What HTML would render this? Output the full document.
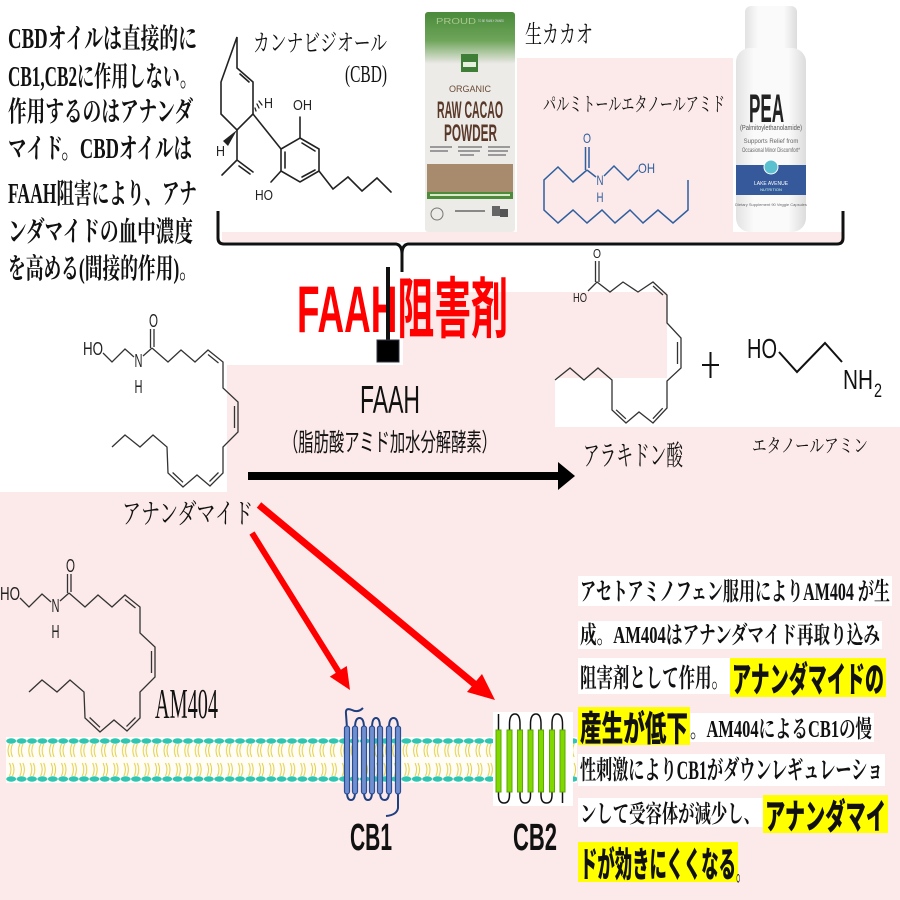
<!DOCTYPE html>
<html><head><meta charset="utf-8"><style>
html,body{margin:0;padding:0;background:#fff;}
svg{display:block;}
.mi{font-family:"Liberation Serif","Noto Serif CJK SC",serif;}
.go{font-family:"Liberation Sans","Noto Sans CJK JP",sans-serif;}
</style></head><body>
<svg width="900" height="900" viewBox="0 0 900 900" xmlns="http://www.w3.org/2000/svg">
<defs>
<linearGradient id="gtop" x1="0" y1="0" x2="0" y2="1">
<stop offset="0" stop-color="#4a8a3a"/><stop offset="0.55" stop-color="#6ea55a"/><stop offset="1" stop-color="#ecebe8"/>
</linearGradient>
<linearGradient id="bot" x1="0" y1="0" x2="1" y2="0">
<stop offset="0" stop-color="#e2e2e2"/><stop offset="0.25" stop-color="#fafafa"/><stop offset="0.75" stop-color="#fafafa"/><stop offset="1" stop-color="#dcdcdc"/>
</linearGradient>
<pattern id="mem" x="6" y="736" width="10.4" height="48" patternUnits="userSpaceOnUse">
<path d="M3.5,8 q-3,6.5 0,13 M6.5,8 q-3,6.5 0,13" stroke="#e2cf45" fill="none" stroke-width="1"/>
<path d="M3.5,27 q3,6.5 0,13 M6.5,27 q3,6.5 0,13" stroke="#e2cf45" fill="none" stroke-width="1"/>
<ellipse cx="5.2" cy="5" rx="5" ry="2.7" fill="#2ec6b2"/>
<ellipse cx="5.2" cy="43" rx="5" ry="2.7" fill="#2ec6b2"/>
</pattern>
</defs>

<rect width="900" height="900" fill="#fff"/>
<!-- pink regions -->
<rect x="517" y="58" width="326" height="176" fill="#fce9e9"/>
<rect x="222" y="232" width="621" height="10" fill="#fce9e9"/>
<rect x="403" y="292" width="264" height="86" fill="#fce9e9"/>
<rect x="227" y="365" width="328" height="128" fill="#fce9e9"/>
<rect x="555" y="427" width="345" height="66" fill="#fce9e9"/>
<rect x="0" y="492" width="900" height="408" fill="#fce9e9"/>

<!-- top-left text -->
<g class="mi" font-size="28" font-weight="700" fill="#111">
<text x="8" y="48" textLength="189" lengthAdjust="spacingAndGlyphs">CBDオイルは直接的に</text>
<text x="8" y="86" textLength="189" lengthAdjust="spacingAndGlyphs">CB1,CB2に作用しない。</text>
<text x="8" y="121" textLength="185" lengthAdjust="spacingAndGlyphs">作用するのはアナンダ</text>
<text x="8" y="158" textLength="184" lengthAdjust="spacingAndGlyphs">マイド。CBDオイルは</text>
<text x="8" y="203" textLength="189" lengthAdjust="spacingAndGlyphs">FAAH阻害により、アナ</text>
<text x="8" y="241" textLength="185" lengthAdjust="spacingAndGlyphs">ンダマイドの血中濃度</text>
<text x="8" y="278" textLength="189" lengthAdjust="spacingAndGlyphs">を高める(間接的作用)。</text>
</g>

<!-- CBD label -->
<g class="mi" fill="#111">
<text x="253" y="51" font-size="24" textLength="134" lengthAdjust="spacingAndGlyphs">カンナビジオール</text>
<text x="345" y="82" font-size="24" textLength="42" lengthAdjust="spacingAndGlyphs">(CBD)</text>
</g>
<!-- CBD structure -->
<g stroke="#222" stroke-width="1.6" fill="none" stroke-linecap="round">
<path d="M237,37 L237,68 L253,82 L253,114 L237,130 L221,114 L221,82 Z"/>
<path d="M240,74 L249,82"/>
<path d="M253,114 L281,149"/>
<path d="M237,130 L237,160 L222,175 M237,160 L253,172 M239,166 L250,174"/>
<path d="M300,138 L319,149 L319,171 L300,182 L281,171 L281,149 Z"/>
<path d="M285,152 L285,168 M302,143 L315,151 M315,170 L302,177"/>
<path d="M300,138 L300,117"/>
<path d="M281,171 L271,182"/>
<path d="M319,171 L333,189 L348,177 L362,191 L377,178 L391,192"/>
<path d="M256,111 L255,108 M259,108 L257,104 M262,105 L259,101" stroke-width="1.3"/>
</g>
<polygon points="237,130 223,141 228,146" fill="#222"/>
<g class="go" font-size="15" fill="#222">
<text x="264" y="108" textLength="9" lengthAdjust="spacingAndGlyphs">H</text>
<text x="216" y="156" textLength="9" lengthAdjust="spacingAndGlyphs">H</text>
<text x="293" y="110" textLength="19" lengthAdjust="spacingAndGlyphs">OH</text>
<text x="255" y="200" textLength="18" lengthAdjust="spacingAndGlyphs">HO</text>
</g>

<!-- Cacao bag -->
<g>
<rect x="425" y="12" width="90" height="220" rx="3" fill="#ecebe8"/>
<rect x="425" y="12" width="90" height="52" rx="3" fill="url(#gtop)"/>
<text x="436" y="24" class="go" font-size="8" fill="#a8c890" textLength="40" lengthAdjust="spacingAndGlyphs">PROUD</text>
<text x="478" y="22" class="go" font-size="4" fill="#dde" textLength="26" lengthAdjust="spacingAndGlyphs">TO BE FAMILY OWNED</text>
<rect x="461" y="54" width="17" height="18" fill="#3f7e36"/>
<rect x="463" y="62" width="13" height="5" fill="#e8f0e0"/>
<text x="470" y="92" class="go" font-size="9" fill="#6a4a35" text-anchor="middle">ORGANIC</text>
<text x="437" y="118" class="go" font-size="24" font-weight="700" fill="#5a3828" textLength="66" lengthAdjust="spacingAndGlyphs">RAW CACAO</text>
<text x="444" y="141" class="go" font-size="24" font-weight="700" fill="#5a3828" textLength="53" lengthAdjust="spacingAndGlyphs">POWDER</text>
<g fill="#9a9a9a">
<rect x="430" y="146" width="22" height="2"/><rect x="430" y="150" width="18" height="2"/>
<rect x="458" y="146" width="24" height="2"/><rect x="458" y="150" width="22" height="2"/><rect x="460" y="154" width="14" height="2"/>
<rect x="488" y="146" width="22" height="2"/><rect x="488" y="150" width="20" height="2"/><rect x="488" y="154" width="18" height="2"/>
</g>
<rect x="427" y="164" width="86" height="29" fill="#a88a6c"/>
<rect x="427" y="192" width="86" height="7" fill="#4d8a3a"/>
<rect x="430" y="194" width="80" height="2" fill="#d8e8c8"/>
<circle cx="437" cy="214" r="6" fill="none" stroke="#777" stroke-width="1"/>
<rect x="455" y="210" width="30" height="2" fill="#888"/>
<rect x="492" y="206" width="8" height="10" fill="#666"/>
<rect x="500" y="209" width="8" height="8" fill="#555"/>
</g>
<text x="525" y="43" class="mi" font-size="25" fill="#111" textLength="68" lengthAdjust="spacingAndGlyphs">生カカオ</text>
<text x="543" y="111" class="mi" font-size="20" fill="#111" textLength="182" lengthAdjust="spacingAndGlyphs">パルミトールエタノールアミド</text>

<!-- PEA structure -->
<g stroke="#2f5f9f" stroke-width="1.5" fill="none">
<path d="M585.5,147 L585.5,170 M589,147 L589,168"/>
<path d="M587,170 L596,177"/>
<path d="M604,176 L614,166 L628,180 L638,170"/>
<path d="M587,170 L573,182 L558,167 L544,180 L544,210 L558,223 L573,210 L587,223 L602,210 L615,223 L630,210 L643,223 L658,210 L673,223 L688,210 L688,180"/>
</g>
<g class="go" font-size="14" fill="#2f5f9f">
<text x="583" y="143" textLength="8" lengthAdjust="spacingAndGlyphs">O</text>
<text x="596.5" y="185" textLength="7" lengthAdjust="spacingAndGlyphs">N</text>
<text x="596.5" y="202" textLength="7" lengthAdjust="spacingAndGlyphs">H</text>
<text x="638" y="173" textLength="17" lengthAdjust="spacingAndGlyphs">OH</text>
</g>

<!-- PEA bottle -->
<rect x="733" y="0" width="110" height="232" fill="#fff"/>
<rect x="745" y="6" width="52" height="52" rx="6" fill="url(#bot)"/>
<rect x="736" y="48" width="70" height="184" rx="14" fill="url(#bot)"/>
<text x="749" y="122" class="go" font-size="40" font-weight="700" fill="#222" textLength="35" lengthAdjust="spacingAndGlyphs">PEA</text>
<text x="740" y="130" class="go" font-size="7" fill="#555" textLength="62" lengthAdjust="spacingAndGlyphs">(Palmitoylethanolamide)</text>
<text x="771" y="143" class="go" font-size="6" fill="#666" text-anchor="middle">Supports Relief from</text>
<text x="771" y="152" class="go" font-size="6" fill="#666" text-anchor="middle" textLength="58" lengthAdjust="spacingAndGlyphs">Occasional Minor Discomfort*</text>
<rect x="736" y="165" width="70" height="30" fill="#35599a"/>
<circle cx="771" cy="167" r="7" fill="#5bc0d0" stroke="#fff" stroke-width="1"/>
<text x="771" y="185" class="go" font-size="5" fill="#fff" text-anchor="middle">LAKE AVENUE</text>
<text x="771" y="191" class="go" font-size="4" fill="#cfe" text-anchor="middle">NUTRITION</text>
<text x="771" y="206" class="go" font-size="4" fill="#666" text-anchor="middle">Dietary Supplement   90 Veggie Capsules</text>

<!-- bracket -->
<path d="M218,211 L218,238 Q218,244 224,244 L396,244 Q402,245 402,254 L402,272 M402,254 Q402,245 408,244 L837,244 Q843,244 843,238 L843,211" stroke="#111" stroke-width="3" fill="none"/>

<!-- FAAH inhibitor -->
<text x="297" y="332" class="go" font-size="66" font-weight="700" fill="#ff0000" textLength="211" lengthAdjust="spacingAndGlyphs">FAAH阻害剤</text>
<line x1="388" y1="267" x2="388" y2="341" stroke="#111" stroke-width="4"/>
<rect x="377" y="340" width="22" height="22" fill="#000" stroke="#334" stroke-width="1"/>

<text x="360" y="413" class="go" font-size="39" fill="#111" textLength="60" lengthAdjust="spacingAndGlyphs">FAAH</text>
<text x="283" y="451" class="go" font-size="25" fill="#111" textLength="214" lengthAdjust="spacingAndGlyphs">（脂肪酸アミド加水分解酵素）</text>

<!-- black arrow -->
<line x1="248" y1="476" x2="562" y2="476" stroke="#000" stroke-width="8"/>
<polygon points="558,462 575,476 558,490" fill="#000"/>

<!-- anandamide -->
<g id="ana">
<g stroke="#333" stroke-width="1.3" fill="none">
<path d="M103,353 L112,362 L125,349 L134,357"/>
<path d="M143,356 L152,348"/>
<path d="M150.5,348 L150.5,329 M154,347 L154,329"/>
<path d="M152,348 L168,362 L181,350 L195,362 L208,350 L223,362 L223,388 L238,402 L238,432 L223,447 L223,473 L210,486 L197,475 L183,487 L168,473 L167,447 L153,435 L140,447 L125,435 L112,447"/>
<path d="M208,354.5 L218.5,363 M234.5,406 L234.5,428 M218.5,472.5 L209.5,481.5 M183,482.3 L172.6,472.5"/>
</g>
<g class="go" font-size="18" fill="#222">
<text x="83" y="355" textLength="20" lengthAdjust="spacingAndGlyphs">HO</text>
<text x="134.5" y="367" textLength="8" lengthAdjust="spacingAndGlyphs">N</text>
<text x="134.5" y="393" textLength="8" lengthAdjust="spacingAndGlyphs">H</text>
<text x="149" y="327" textLength="9" lengthAdjust="spacingAndGlyphs">O</text>
</g>
</g>
<text x="122" y="523" class="mi" font-size="28" fill="#111" textLength="131" lengthAdjust="spacingAndGlyphs">アナンダマイド</text>

<!-- arachidonic acid -->
<g stroke="#333" stroke-width="1.3" fill="none">
<path d="M595.5,282 L595.5,261 M599,282 L599,261"/>
<path d="M588,291 L597,282 L610,292 L623,282 L638,292 L653,282 L667,295 L667,323 L681,338 L681,368 L667,381 L667,408 L653,423 L639,412 L626,423 L612,410 L612,380 L598,368 L584,380 L570,368 L555,380"/>
<path d="M653,286 L663,295 M677.5,342 L677.5,364 M662.7,408.2 L652.9,418.7 M625.9,418.8 L616.1,409.8"/>
</g>
<g class="go" font-size="13" fill="#222">
<text x="593" y="258" textLength="8" lengthAdjust="spacingAndGlyphs">O</text>
<text x="573" y="302" textLength="14" lengthAdjust="spacingAndGlyphs">HO</text>
</g>
<path d="M702,365 L719,365 M710.5,352 L710.5,378" stroke="#111" stroke-width="2"/>
<!-- ethanolamine -->
<path d="M779,352 L797,372 L825,343 L842,362" stroke="#111" stroke-width="2" fill="none"/>
<g class="go" fill="#111">
<text x="747" y="358" font-size="28" textLength="30" lengthAdjust="spacingAndGlyphs">HO</text>
<text x="843" y="389" font-size="28" textLength="30" lengthAdjust="spacingAndGlyphs">NH</text>
<text x="874" y="397" font-size="19" textLength="8" lengthAdjust="spacingAndGlyphs">2</text>
</g>
<text x="583" y="465" class="mi" font-size="28" fill="#111" textLength="100" lengthAdjust="spacingAndGlyphs">アラキドン酸</text>
<text x="752" y="452" class="mi" font-size="19" fill="#111" textLength="116" lengthAdjust="spacingAndGlyphs">エタノールアミン</text>

<!-- red arrows -->
<line x1="252" y1="533" x2="340" y2="674" stroke="#ff0000" stroke-width="6"/>
<polygon points="350,690 329.8,676.6 346.8,666" fill="#ff0000"/>
<line x1="259" y1="505" x2="478" y2="687" stroke="#ff0000" stroke-width="7"/>
<polygon points="495,700 467,692 482,674" fill="#ff0000"/>

<!-- AM404 -->
<use href="#ana" transform="translate(-83,245)"/>
<text x="155" y="718" class="mi" font-size="42" fill="#111" textLength="63" lengthAdjust="spacingAndGlyphs">AM404</text>

<!-- membrane -->
<rect x="6" y="737" width="571" height="46" fill="#fffdf6"/>
<rect x="6" y="736" width="571" height="48" fill="url(#mem)"/>

<!-- CB1 -->
<g>
<path d="M347,728 L346,714 Q345,707 352,710 Q358,713 363,708" stroke="#1f3f80" stroke-width="2" fill="none"/>
<path d="M355,728 Q355,718 359.5,718 Q364,718 364,728 M372,728 Q372,718 376,718 Q380,718 380,728 M389,728 Q389,718 393.5,718 Q398,718 398,728" stroke="#1f3f80" stroke-width="2" fill="none"/>
<path d="M347,792 Q347,800 351,800 Q355,800 355,792 M364,792 Q364,800 368,800 Q372,800 372,792 M380,792 Q380,800 384.5,800 Q389,800 389,792" stroke="#1f3f80" stroke-width="2" fill="none"/>
<path d="M398,792 L398,808 Q397,815 386,816" stroke="#1f3f80" stroke-width="2" fill="none"/>
<g fill="#6f8fd0" stroke="#2a4d94" stroke-width="1.2">
<rect x="344.5" y="726" width="5" height="68" rx="2.5"/>
<rect x="352.5" y="726" width="5" height="68" rx="2.5"/>
<rect x="361.5" y="726" width="5" height="68" rx="2.5"/>
<rect x="369.5" y="726" width="5" height="68" rx="2.5"/>
<rect x="377.5" y="726" width="5" height="68" rx="2.5"/>
<rect x="386.5" y="726" width="5" height="68" rx="2.5"/>
<rect x="395.5" y="726" width="5" height="68" rx="2.5"/>
</g>
</g>

<!-- CB2 -->
<rect x="493" y="712" width="80" height="94" fill="#fff"/>
<g stroke="#111" stroke-width="1.5" fill="none">
<path d="M498.5,731 L498.5,714"/>
<path d="M509.5,731 L509.5,724 Q509.5,714 515,714 Q520,714 520,724 L520,731"/>
<path d="M530.5,731 L530.5,724 Q530.5,714 536,714 Q541,714 541,724 L541,731"/>
<path d="M552,731 L552,724 Q552,714 557,714 Q562.5,714 562.5,724 L562.5,731"/>
<path d="M498.5,790 L498.5,795 Q498.5,803 504,803 Q509.5,803 509.5,795 L509.5,790"/>
<path d="M520,790 L520,795 Q520,803 525,803 Q530.5,803 530.5,795 L530.5,790"/>
<path d="M541,790 L541,795 Q541,803 546.5,803 Q552,803 552,795 L552,790"/>
<path d="M562.5,790 L562.5,803"/>
</g>
<g fill="#80d800" stroke="#5aa800" stroke-width="1">
<rect x="496" y="730" width="5" height="62"/>
<rect x="507" y="730" width="5" height="62"/>
<rect x="517.5" y="730" width="5" height="62"/>
<rect x="528" y="730" width="5" height="62"/>
<rect x="538.5" y="730" width="5" height="62"/>
<rect x="549.5" y="730" width="5" height="62"/>
<rect x="560" y="730" width="5" height="62"/>
</g>

<g class="go" font-size="38" font-weight="700" fill="#111">
<text x="350" y="850" textLength="42" lengthAdjust="spacingAndGlyphs">CB1</text>
<text x="513" y="850" textLength="44" lengthAdjust="spacingAndGlyphs">CB2</text>
</g>

<!-- right text -->
<g fill="#fff">
<rect x="578" y="576" width="314" height="30"/>
<rect x="578" y="621" width="304" height="28"/>
<rect x="578" y="658" width="152" height="36"/>
<rect x="690" y="713" width="184" height="29"/>
<rect x="578" y="754" width="307" height="32"/>
<rect x="578" y="798" width="185" height="29"/>
</g>
<g fill="#ffff00">
<rect x="730" y="658" width="156" height="39"/>
<rect x="578" y="707" width="112" height="38"/>
<rect x="763" y="795" width="125" height="38"/>
<rect x="578" y="842" width="160" height="40"/>
</g>
<g class="mi" font-weight="700" fill="#111">
<text x="580" y="600" font-size="25" textLength="310" lengthAdjust="spacingAndGlyphs">アセトアミノフェン服用によりAM404 が生</text>
<text x="580" y="643" font-size="24" textLength="300" lengthAdjust="spacingAndGlyphs">成。AM404はアナンダマイド再取り込み</text>
<text x="580" y="687" font-size="26" textLength="148" lengthAdjust="spacingAndGlyphs">阻害剤として作用。</text>
<text x="690" y="737" font-size="24" textLength="182" lengthAdjust="spacingAndGlyphs">。AM404によるCB1の慢</text>
<text x="580" y="779" font-size="26" textLength="303" lengthAdjust="spacingAndGlyphs">性刺激によりCB1がダウンレギュレーショ</text>
<text x="580" y="822" font-size="24" textLength="180" lengthAdjust="spacingAndGlyphs">ンして受容体が減少し、</text>
<text x="736" y="880" font-size="30" textLength="12" lengthAdjust="spacingAndGlyphs">。</text>
</g>
<g class="go" font-weight="900" fill="#111" font-size="35">
<text x="732" y="692" textLength="152" lengthAdjust="spacingAndGlyphs">アナンダマイドの</text>
<text x="580" y="741" textLength="108" lengthAdjust="spacingAndGlyphs">産生が低下</text>
<text x="765" y="829" textLength="121" lengthAdjust="spacingAndGlyphs">アナンダマイ</text>
<text x="580" y="877" textLength="156" lengthAdjust="spacingAndGlyphs">ドが効きにくくなる</text>
</g>
</svg>
</body></html>
